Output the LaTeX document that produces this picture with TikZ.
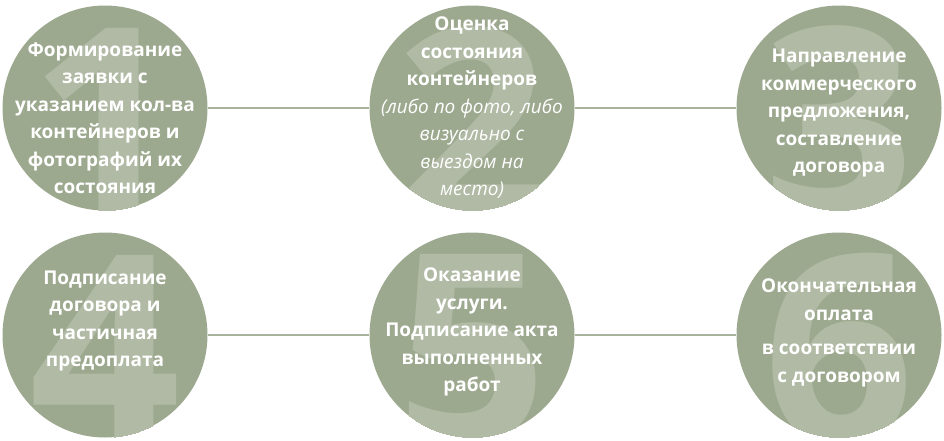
\documentclass[tikz,border=0pt]{standalone}
\usepackage{fontspec}
\setmainfont{Open Sans}
\usetikzlibrary{positioning}
\definecolor{sage}{RGB}{157,169,143}
\definecolor{sagelight}{RGB}{176,186,164}
\definecolor{sageline}{RGB}{167,180,155}
\tikzset{
  stage/.style={circle,fill=sage,minimum size=205pt,inner sep=0pt,
    path picture={\node[numeral] at ([yshift=-15pt]path picture bounding box.center) {#1};}},
  numeral/.style={text=sagelight,font=\fontsize{265}{265}\selectfont\bfseries,inner sep=0pt},
  caption/.style={text=white,align=center,font=\fontsize{19}{27.5}\selectfont\bfseries},
  link/.style={draw=sageline,line width=1.6pt}
}
\begin{document}
\begin{tikzpicture}[node distance=367pt]
  \useasboundingbox (0,0) rectangle (944pt,-440pt);
  \node[stage=1] (s1) at (105pt,-108pt) {};
  \node[stage=2,right of=s1] (s2) {};
  \node[stage=3,right of=s2] (s3) {};
  \node[stage=4,below of=s1,node distance=227pt] (s4) {};
  \node[stage=5,right of=s4] (s5) {};
  \node[stage=6,right of=s5] (s6) {};

  \draw[link] (s1) -- (s2) (s2) -- (s3)
              (s4) -- (s5) (s5) -- (s6);

  \node[caption,yshift=-10pt] (t1) at (s1) {Формирование\\заявки с\\указанием кол-ва\\контейнеров и\\фотографий их\\состояния};
  \node[caption] (t2) at (s2) {Оценка\\состояния\\контейнеров\\{\mdseries\itshape (либо по фото, либо}\\{\mdseries\itshape визуально с}\\{\mdseries\itshape выездом на}\\{\mdseries\itshape место)}};
  \node[caption,yshift=-5pt] (t3) at (s3) {Направление\\коммерческого\\предложения,\\составление\\договора};
  \node[caption,yshift=14pt] (t4) at (s4) {Подписание\\договора и\\частичная\\предоплата};
  \node[caption,yshift=3pt] (t5) at (s5) {Оказание\\услуги.\\Подписание акта\\выполненных\\работ};
  \node[caption,yshift=2pt] (t6) at (s6) {Окончательная\\оплата\\[7pt]в соответствии\\с договором};
\end{tikzpicture}
\end{document}
